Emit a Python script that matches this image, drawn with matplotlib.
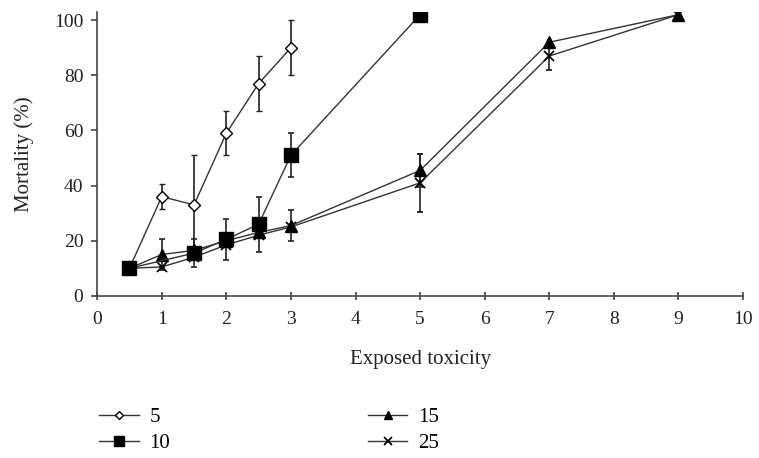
import matplotlib
matplotlib.use("Agg")
import matplotlib.pyplot as plt
from matplotlib.lines import Line2D

plt.rcParams['font.family'] = ['Liberation Serif', 'DejaVu Serif']

# series: exposed toxicity (x), mortality (%) and error
x5 = [0.5, 1, 1.5, 2, 2.5, 3]
y5 = [10, 36, 33, 59, 77, 90]
e5 = [0, 4.5, 18, 8, 10, 10]

x10 = [0.5, 1.5, 2, 2.5, 3, 5]
y10 = [10, 15.5, 20.5, 26, 51, 102]
e10 = [0, 5, 7.5, 10, 8, 0]

x15 = [0.5, 1, 1.5, 2, 2.5, 3, 5, 7, 9]
y15 = [10, 15, 16.5, 20, 23, 25.5, 45.5, 92, 102]
e15 = [0, 5.5, 0, 0, 0, 5.5, 6, 0, 0]

x25 = [0.5, 1, 1.5, 2, 2.5, 3, 5, 7, 9]
y25 = [10, 10.5, 14, 18.5, 22, 25, 41, 87, 102]
e25 = [0, 0, 0, 0, 0, 0, 10.5, 5, 0]

fig = plt.figure(figsize=(7.59, 4.58), dpi=100)
ax = fig.add_axes([0.128, 0.354, 0.851, 0.62])

lc = '#333333'
kw = dict(color=lc, lw=1.0, ecolor='#222222', elinewidth=1.2, capsize=2.5, capthick=1.2)
st5 = dict(marker='D', ms=6, mfc='white', mec='black', mew=1.0)
st10 = dict(marker='s', ms=10, mfc='black', mec='black')
st15 = dict(marker='^', ms=8, mfc='black', mec='black')
st25 = dict(marker='x', ms=7, mew=1.3, mec='black')

ax.errorbar(x5, y5, yerr=e5, **st5, **kw)
ax.errorbar(x25, y25, yerr=e25, **st25, **kw)
ax.errorbar(x15, y15, yerr=e15, **st15, **kw)
ax.errorbar(x10, y10, yerr=e10, **st10, **kw)

ax.set_xlim(0, 10)
ax.set_ylim(0, 103)
ax.set_xticks(range(0, 11))
ax.set_yticks(range(0, 101, 20))
for s in ['top', 'right']:
    ax.spines[s].set_visible(False)
for s in ['left', 'bottom']:
    ax.spines[s].set_color('#444444')
    ax.spines[s].set_linewidth(1.2)
ax.tick_params(direction='out', length=4, width=1.2, colors='#444444', labelsize=14, labelcolor='#222222')
ax.tick_params(axis='x', direction='inout', length=6, pad=8)
ax.tick_params(axis='y', pad=6)
ax.set_xlabel('Exposed toxicity', fontsize=15, color='#222222', labelpad=16)
ax.set_ylabel('Mortality (%)', fontsize=15, color='#222222', labelpad=14)

def handle(st):
    return Line2D([], [], color=lc, lw=1.0, **dict(st, ms=st['ms'] * 0.75))

handles = [handle(st5), handle(st10), handle(st15), handle(st25)]
labels = ['5', '10', '15', '25']
fig.legend(handles, labels, ncol=2, frameon=False,
           loc='lower left', bbox_to_anchor=(0.106, -0.03), fontsize=15,
           handlelength=1.9, handletextpad=0.5, columnspacing=9.5, labelspacing=0.3)

fig.savefig('out.png', dpi=100)
